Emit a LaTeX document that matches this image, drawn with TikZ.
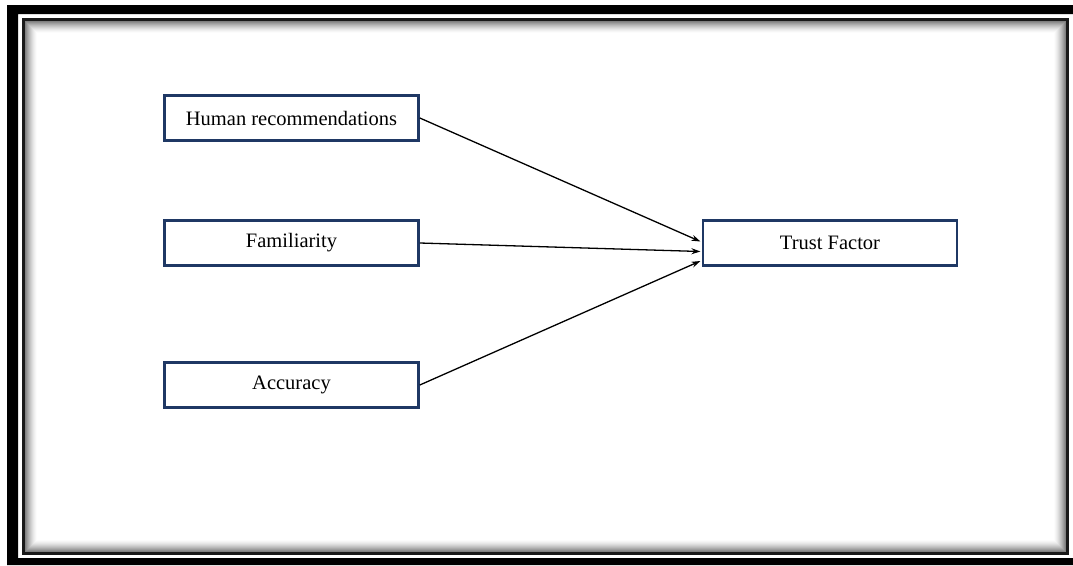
\documentclass[tikz,border=0pt]{standalone}
\usepackage{fontspec}
\setmainfont{Liberation Serif}
\usetikzlibrary{arrows.meta,calc}
\definecolor{boxblue}{RGB}{31,56,100}
\tikzset{
  factor/.style={draw=boxblue, line width=2.6pt, fill=white, minimum width=254pt, minimum height=45.5pt, inner sep=0pt, font=\fontsize{20.5pt}{23pt}\selectfont},
  link/.style={line width=1.3pt, -{Stealth[length=9pt,width=6pt]}}
}
\begin{document}
\begin{tikzpicture}[x=1pt,y=-1pt]
\useasboundingbox (0,0) rectangle (1073,565);
\fill[white] (0,0) rectangle (1073,565);
% outer black frame
\fill[black,even odd rule] (7,5) rectangle (1080,565) (18,14) rectangle (1075,558);
% inner shadow
\foreach \i in {0,...,11}{
  \pgfmathsetmacro{\g}{50*(1-\i/12)^1.5}
  \draw[line width=1.05pt, black!\g] (25.5+\i,21.5+\i) rectangle (1065.5-\i,551.5-\i);
}
% inner line
\draw[line width=3pt, black!90] (23.5,19.5) rectangle (1067.5,553.5);

\node[factor] (hr) at (291.5,118) {Human recommendations};
\node[factor] (fam) at (291.5,243) {Familiarity};
\node[factor] (acc) at (291.5,385) {Accuracy};
\node[factor] (tf) at (830,243) {Trust Factor};

\coordinate (t1) at ($(tf.west)+(-1.3,-1.5)$);
\coordinate (t2) at ($(tf.west)+(-1.3,8.5)$);
\coordinate (t3) at ($(tf.west)+(-1.3,18)$);
\draw[link] (hr.east) -- (t1);
\draw[link] (fam.east) -- (t2);
\draw[link] (acc.east) -- (t3);
\end{tikzpicture}
\end{document}
